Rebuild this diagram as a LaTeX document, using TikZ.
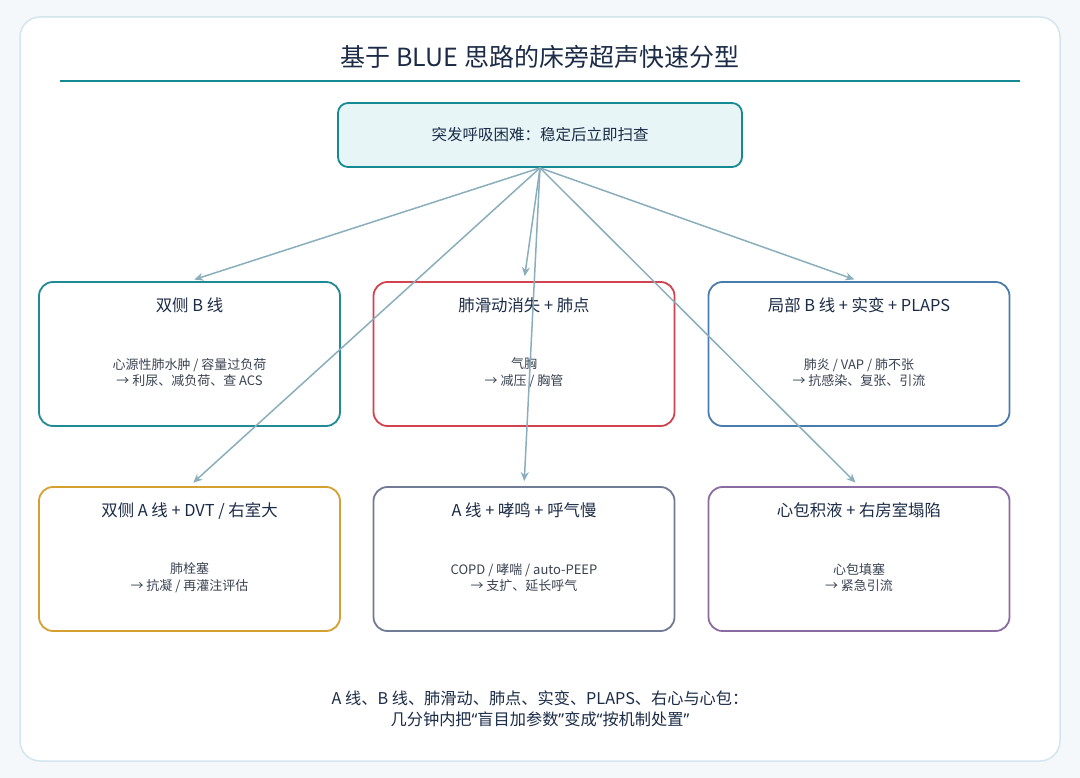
\documentclass[tikz,border=0pt]{standalone}
\usepackage{fontspec}
\setmainfont{Noto Sans CJK SC}
\newfontfamily\quotefont{Noto Sans}
\usetikzlibrary{arrows.meta}
\definecolor{pagebg}{HTML}{F4F8FA}
\definecolor{cardline}{HTML}{D3E6EE}
\definecolor{teal}{HTML}{168A92}
\definecolor{tealfill}{HTML}{E7F5F7}
\definecolor{navy}{HTML}{1C2C47}
\definecolor{bodytxt}{HTML}{3A4352}
\definecolor{link}{HTML}{8AAEBB}
\definecolor{cteal}{HTML}{218A93}
\definecolor{cred}{HTML}{D0434F}
\definecolor{cblue}{HTML}{4A7BAD}
\definecolor{cgold}{HTML}{D6A030}
\definecolor{cslate}{HTML}{717B96}
\definecolor{cpurple}{HTML}{8C6BA3}
\newcommand{\openq}{{\quotefont “}}
\newcommand{\closeq}{{\quotefont ”}}
\tikzset{
  card/.style={rectangle, rounded corners=14, line width=1.8pt, fill=white,
    minimum width=301, minimum height=144, inner sep=0pt},
  cardtitle/.style={font=\fontsize{16.4}{19}\selectfont, text=navy, inner sep=0pt},
  cardbody/.style={font=\fontsize{13}{16.5}\selectfont, text=bodytxt, align=center, inner sep=0pt},
  flow/.style={draw=link, line width=1.5pt, shorten >=5pt,
    -{Stealth[length=9pt,width=8pt]}},
}
\begin{document}
\begin{tikzpicture}[x=1pt,y=-1pt]
\useasboundingbox (0,0) rectangle (1080,778);
\fill[pagebg] (0,0) rectangle (1080,778);
\draw[cardline, fill=white, line width=1.5pt, rounded corners=20] (20,17) rectangle (1060,761);

% heading and rule
\node[font=\fontsize{25}{29}\selectfont, text=navy, inner sep=0pt] (title) at (540,57)
  {基于 BLUE 思路的床旁超声快速分型};
\draw[teal, line width=2pt] (60,81) -- (1020,81);

% entry point
\node[rectangle, rounded corners=10, draw=teal, fill=tealfill, line width=1.8pt,
  minimum width=404, minimum height=64, font=\fontsize{15.5}{18}\selectfont, text=navy]
  (start) at (540,135) {突发呼吸困难：稳定后立即扫查};

% six patterns
\node[card, draw=cteal]   (b1) at (189.5,354) {};
\node[card, draw=cred]    (b2) at (524,354) {};
\node[card, draw=cblue]   (b3) at (859,354) {};
\node[card, draw=cgold]   (b4) at (189.5,559) {};
\node[card, draw=cslate]  (b5) at (524,559) {};
\node[card, draw=cpurple] (b6) at (859,559) {};

\node[cardtitle] (t1) at ([yshift=-24.5]b1.north) {双侧 B 线};
\node[cardtitle] (t2) at ([yshift=-24.5]b2.north) {肺滑动消失 + 肺点};
\node[cardtitle] (t3) at ([yshift=-24.5]b3.north) {局部 B 线 + 实变 + PLAPS};
\node[cardtitle] (t4) at ([yshift=-24.5]b4.north) {双侧 A 线 + DVT / 右室大};
\node[cardtitle] (t5) at ([yshift=-24.5]b5.north) {A 线 + 哮鸣 + 呼气慢};
\node[cardtitle] (t6) at ([yshift=-24.5]b6.north) {心包积液 + 右房室塌陷};

\node[cardbody] (d1) at ([yshift=-18.5]b1.center) {心源性肺水肿 / 容量过负荷\\→ 利尿、减负荷、查 ACS};
\node[cardbody] (d2) at ([yshift=-18.5]b2.center) {气胸\\→ 减压 / 胸管};
\node[cardbody] (d3) at ([yshift=-18.5]b3.center) {肺炎 / VAP / 肺不张\\→ 抗感染、复张、引流};
\node[cardbody] (d4) at ([yshift=-18.5]b4.center) {肺栓塞\\→ 抗凝 / 再灌注评估};
\node[cardbody] (d5) at ([yshift=-18.5]b5.center) {COPD / 哮喘 / auto-PEEP\\→ 支扩、延长呼气};
\node[cardbody] (d6) at ([yshift=-18.5]b6.center) {心包填塞\\→ 紧急引流};

% connectors from the entry point
\foreach \b in {b1,b2,b3,b4,b5,b6}
  \draw[flow] (start.south) -- (\b.north);

% closing note
\node[font=\fontsize{16.2}{21}\selectfont, text=navy, align=center, inner sep=0pt] (note) at (540,708.5)
  {A 线、B 线、肺滑动、肺点、实变、PLAPS、右心与心包：\\几分钟内把\openq 盲目加参数\closeq 变成\openq 按机制处置\closeq};
\end{tikzpicture}
\end{document}
